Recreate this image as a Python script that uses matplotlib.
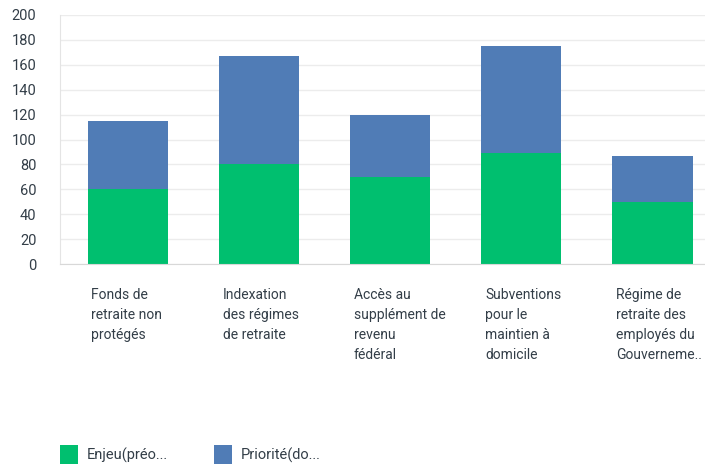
import numpy as np
import matplotlib.pyplot as plt
from matplotlib.patches import Patch

categories = [
    "Fonds de\nretraite non\nprotégés",
    "Indexation\ndes régimes\nde retraite",
    "Accès au\nsupplément de\nrevenu\nfédéral",
    "Subventions\npour le\nmaintien à\ndomicile",
    "Régime de\nretraite des\nemployés du\nGouverneme..",
]
enjeu = [60, 80, 70, 89, 50]
priorite = [55, 87, 50, 86, 37]
series_names = ["Enjeu(préo...", "Priorité(do..."]
yticks = list(range(0, 201, 20))

green = "#00bf6f"
blue = "#507cb6"
text_col = "#333e48"

plt.rcParams['font.family'] = ['Roboto', 'DejaVu Sans']

fig = plt.figure(figsize=(7.05, 4.66), dpi=100)
ax = fig.add_axes([60 / 705, (466 - 264) / 466, 645 / 705, 249 / 466])

x = np.arange(len(categories))
w = 0.61
ax.bar(x, enjeu, width=w, color=green, zorder=2)
ax.bar(x, priorite, width=w, bottom=enjeu, color=blue, zorder=2)

ax.set_ylim(0, 200)
ax.set_xlim(-0.515, 4.40)
ax.set_yticks(yticks)
ax.tick_params(axis='y', length=0, labelsize=10.5, labelcolor=text_col, pad=17)
ax.grid(axis='y', color='#ececec', linewidth=1, zorder=0)

ax.set_xticks(x - w / 2 + 0.03)
ax.set_xticklabels(categories, ha='left', va='top', fontsize=10, color=text_col,
                   linespacing=1.55)
ax.tick_params(axis='x', length=0, pad=17)

for s in ['top', 'right']:
    ax.spines[s].set_visible(False)
ax.spines['left'].set_color('#e4e4e4')
ax.spines['bottom'].set_color('#d8d8d8')

handles = [Patch(facecolor=green, edgecolor='none'), Patch(facecolor=blue, edgecolor='none')]
fig.legend(handles, series_names, loc='lower left', bbox_to_anchor=(47 / 705, -0.024),
           ncol=2, frameon=False, fontsize=10.5, handlelength=1.25, handleheight=1.6,
           handletextpad=0.55, columnspacing=3.2, labelcolor=text_col)

fig.savefig("out.png", dpi=100)
